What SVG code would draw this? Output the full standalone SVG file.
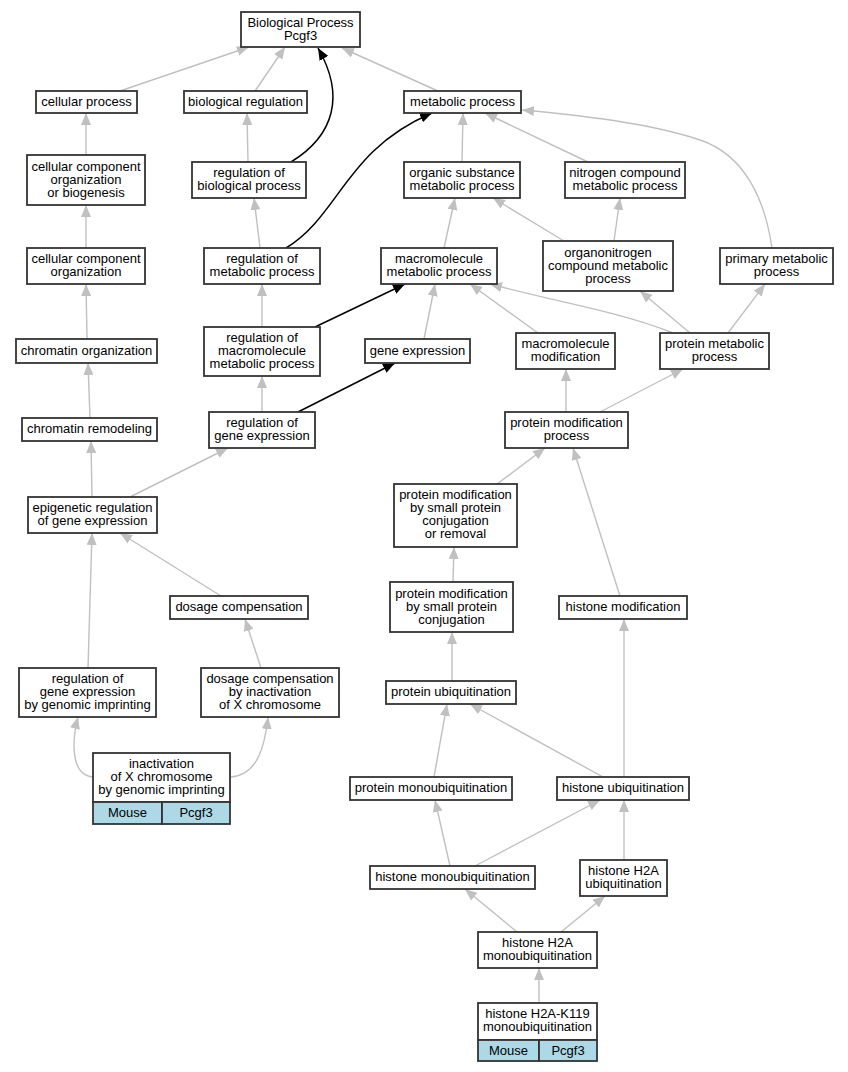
<svg xmlns="http://www.w3.org/2000/svg" width="848" height="1072" viewBox="0 0 848 1072">
<style>
.n rect{fill:#fff;stroke:#333;stroke-width:1.8}
.n rect.b{fill:#add8e6}
text{font-family:"Liberation Sans",Arial,sans-serif;font-size:13px;text-anchor:middle;fill:#000}
.g path{fill:none;stroke:#c0c0c0;stroke-width:1.4;marker-end:url(#ag)}
.k path{fill:none;stroke:#000;stroke-width:1.5;marker-end:url(#ak)}
</style>
<defs>
<marker id="ag" markerUnits="userSpaceOnUse" markerWidth="12" markerHeight="10" refX="12" refY="5" orient="auto" viewBox="0 0 12 10"><path d="M0,0 L12,5 L0,10 z" fill="#c0c0c0"/></marker>
<marker id="ak" markerUnits="userSpaceOnUse" markerWidth="12" markerHeight="10" refX="12" refY="5" orient="auto" viewBox="0 0 12 10"><path d="M0,0 L12,5 L0,10 z" fill="#000"/></marker>
</defs>
<rect width="848" height="1072" fill="#fff"/>
<g id="edges">
<g class="g">
<path d="M120,91 L249,47"/>
<path d="M255,91 L285,47"/>
<path d="M438,91 L342,48"/>
<path d="M462,162 L463,113"/>
<path d="M588,162 L485,113"/>
<path d="M772,248 C765,200 745,155 700,140 C650,123 580,115 522,110"/>
<path d="M86,155 L86,113"/>
<path d="M248,162 L247,113"/>
<path d="M86,248 L86,205"/>
<path d="M260,248 L254,198"/>
<path d="M444,248 L455,198"/>
<path d="M564,241 L493,198"/>
<path d="M614,241 L620,198"/>
<path d="M87,339 L86,284"/>
<path d="M262,327 L262,284"/>
<path d="M424,339 L435,284"/>
<path d="M538,333 L470,284"/>
<path d="M673,333 C620,312 570,305 490,284"/>
<path d="M690,333 L640,291"/>
<path d="M728,333 L765,284"/>
<path d="M90,418 L88,363"/>
<path d="M262,412 L262,376"/>
<path d="M566,412 L566,369"/>
<path d="M600,412 L683,369"/>
<path d="M92,497 L91,441"/>
<path d="M130,497 L228,448"/>
<path d="M497,484 L545,448"/>
<path d="M620,596 L573,448"/>
<path d="M221,596 L120,533"/>
<path d="M453,582 L454,547"/>
<path d="M88,668 L92,533"/>
<path d="M261,668 L245,619"/>
<path d="M452,681 L452,632"/>
<path d="M624,777 L624,619"/>
<path d="M93,777 C70,775 72,740 78,717"/>
<path d="M231,777 C258,775 265,745 268,717"/>
<path d="M434,777 L447,704"/>
<path d="M603,777 L470,704"/>
<path d="M450,866 L435,800"/>
<path d="M475,866 L600,800"/>
<path d="M624,860 L624,800"/>
<path d="M517,932 L465,889"/>
<path d="M561,932 L605,896"/>
<path d="M539,1003 L539,968"/>
</g>
<g class="k">
<path d="M291,162 C335,135 345,95 318,48"/>
<path d="M286,248 C340,215 345,150 432,113"/>
<path d="M315,327 L405,284"/>
<path d="M298,412 L395,363"/>
</g>
</g>
<g id="n1" class="n"><rect x="241" y="12" width="119" height="35"/><text x="300.5" y="26.5">Biological Process</text><text x="300.5" y="39.5">Pcgf3</text></g>
<g id="n2" class="n"><rect x="36" y="91" width="101" height="22"/><text x="86.5" y="105.5">cellular process</text></g>
<g id="n3" class="n"><rect x="184" y="91" width="123" height="22"/><text x="245.5" y="105.5">biological regulation</text></g>
<g id="n4" class="n"><rect x="404" y="91" width="117" height="22"/><text x="462.5" y="105.5">metabolic process</text></g>
<g id="n5" class="n"><rect x="27" y="155" width="118" height="50"/><text x="86" y="170.5">cellular component</text><text x="86" y="183.5">organization</text><text x="86" y="196.5">or biogenesis</text></g>
<g id="n6" class="n"><rect x="192" y="162" width="114" height="36"/><text x="249" y="177">regulation of</text><text x="249" y="190">biological process</text></g>
<g id="n7" class="n"><rect x="404" y="162" width="116" height="36"/><text x="462" y="177">organic substance</text><text x="462" y="190">metabolic process</text></g>
<g id="n8" class="n"><rect x="565" y="162" width="120" height="36"/><text x="625" y="177">nitrogen compound</text><text x="625" y="190">metabolic process</text></g>
<g id="n9" class="n"><rect x="27" y="248" width="118" height="36"/><text x="86" y="263">cellular component</text><text x="86" y="276">organization</text></g>
<g id="n10" class="n"><rect x="204" y="248" width="116" height="36"/><text x="262" y="263">regulation of</text><text x="262" y="276">metabolic process</text></g>
<g id="n11" class="n"><rect x="381" y="248" width="116" height="36"/><text x="439" y="263">macromolecule</text><text x="439" y="276">metabolic process</text></g>
<g id="n12" class="n"><rect x="543" y="241" width="130" height="50"/><text x="608" y="256.5">organonitrogen</text><text x="608" y="269.5">compound metabolic</text><text x="608" y="282.5">process</text></g>
<g id="n13" class="n"><rect x="720" y="248" width="113" height="36"/><text x="776.5" y="263">primary metabolic</text><text x="776.5" y="276">process</text></g>
<g id="n14" class="n"><rect x="16" y="339" width="141" height="24"/><text x="86.5" y="354.5">chromatin organization</text></g>
<g id="n15" class="n"><rect x="204" y="327" width="116" height="49"/><text x="262" y="342">regulation of</text><text x="262" y="355">macromolecule</text><text x="262" y="368">metabolic process</text></g>
<g id="n16" class="n"><rect x="365" y="339" width="105" height="24"/><text x="417.5" y="354.5">gene expression</text></g>
<g id="n17" class="n"><rect x="516" y="333" width="99" height="36"/><text x="565.5" y="348">macromolecule</text><text x="565.5" y="361">modification</text></g>
<g id="n18" class="n"><rect x="660" y="333" width="109" height="36"/><text x="714.5" y="348">protein metabolic</text><text x="714.5" y="361">process</text></g>
<g id="n19" class="n"><rect x="22" y="418" width="135" height="23"/><text x="89.5" y="433">chromatin remodeling</text></g>
<g id="n20" class="n"><rect x="209" y="412" width="106" height="36"/><text x="262" y="427">regulation of</text><text x="262" y="440">gene expression</text></g>
<g id="n21" class="n"><rect x="505" y="412" width="123" height="36"/><text x="566.5" y="427">protein modification</text><text x="566.5" y="440">process</text></g>
<g id="n22" class="n"><rect x="28" y="497" width="129" height="36"/><text x="92.5" y="512">epigenetic regulation</text><text x="92.5" y="525">of gene expression</text></g>
<g id="n23" class="n"><rect x="394" y="484" width="123" height="63"/><text x="455.5" y="499">protein modification</text><text x="455.5" y="512">by small protein</text><text x="455.5" y="525">conjugation</text><text x="455.5" y="538">or removal</text></g>
<g id="n24" class="n"><rect x="170" y="596" width="138" height="23"/><text x="239" y="611">dosage compensation</text></g>
<g id="n25" class="n"><rect x="390" y="582" width="123" height="50"/><text x="451.5" y="597.5">protein modification</text><text x="451.5" y="610.5">by small protein</text><text x="451.5" y="623.5">conjugation</text></g>
<g id="n26" class="n"><rect x="559" y="596" width="128" height="23"/><text x="623" y="611">histone modification</text></g>
<g id="n27" class="n"><rect x="19" y="668" width="137" height="49"/><text x="87.5" y="683">regulation of</text><text x="87.5" y="696">gene expression</text><text x="87.5" y="709">by genomic imprinting</text></g>
<g id="n28" class="n"><rect x="201" y="668" width="138" height="49"/><text x="270" y="683">dosage compensation</text><text x="270" y="696">by inactivation</text><text x="270" y="709">of X chromosome</text></g>
<g id="n29" class="n"><rect x="386" y="681" width="130" height="23"/><text x="451" y="696">protein ubiquitination</text></g>
<g id="n30" class="n"><rect x="93" y="753" width="137" height="49"/><rect class="b" x="93" y="802" width="69" height="22"/><rect class="b" x="162" y="802" width="68" height="22"/><text x="161.5" y="768">inactivation</text><text x="161.5" y="781">of X chromosome</text><text x="161.5" y="794">by genomic imprinting</text><text x="127.5" y="816.5">Mouse</text><text x="196" y="816.5">Pcgf3</text></g>
<g id="n31" class="n"><rect x="350" y="777" width="162" height="23"/><text x="431" y="792">protein monoubiquitination</text></g>
<g id="n32" class="n"><rect x="557" y="777" width="132" height="23"/><text x="623" y="792">histone ubiquitination</text></g>
<g id="n33" class="n"><rect x="370" y="866" width="165" height="23"/><text x="452.5" y="881">histone monoubiquitination</text></g>
<g id="n34" class="n"><rect x="580" y="860" width="87" height="36"/><text x="623.5" y="875">histone H2A</text><text x="623.5" y="888">ubiquitination</text></g>
<g id="n35" class="n"><rect x="478" y="932" width="119" height="36"/><text x="537.5" y="947">histone H2A</text><text x="537.5" y="960">monoubiquitination</text></g>
<g id="n36" class="n"><rect x="478" y="1003" width="119" height="37"/><rect class="b" x="478" y="1040" width="61" height="21"/><rect class="b" x="539" y="1040" width="58" height="21"/><text x="537.5" y="1018">histone H2A-K119</text><text x="537.5" y="1031">monoubiquitination</text><text x="508.5" y="1054.5">Mouse</text><text x="568" y="1054.5">Pcgf3</text></g>
</svg>
